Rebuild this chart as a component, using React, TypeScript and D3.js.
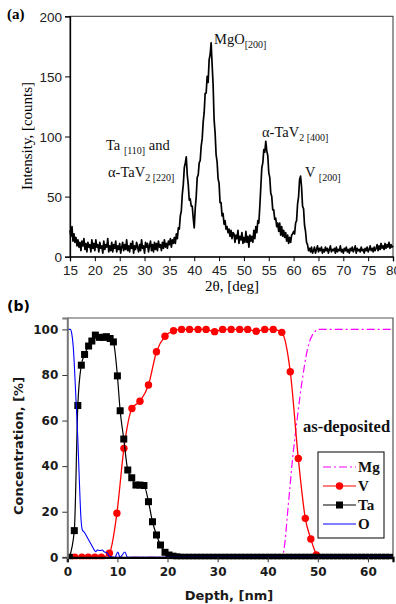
import React, { useRef, useEffect } from 'react'
import * as d3 from 'd3'

// (a) XRD scan, counts read every 0.2 deg from 15 to 80 deg
const XRD_START = 15
const XRD_STEP = 0.2
const xrdCounts = [
  22, 17, 25, 13, 19, 12, 16, 9, 14, 8,
  12, 5, 13, 9, 15, 6, 11, 4, 12, 8,
  10, 4, 14, 7, 11, 5, 14, 8, 10, 4,
  12, 7, 9, 3, 13, 6, 10, 8, 15, 4,
  9, 5, 12, 4, 10, 7, 13, 4, 9, 6,
  11, 3, 8, 12, 5, 10, 6, 14, 5, 9,
  4, 11, 7, 13, 3, 9, 6, 12, 8, 4,
  10, 5, 14, 7, 9, 3, 12, 8, 11, 4,
  9, 13, 5, 10, 4, 12, 6, 11, 5, 13,
  8, 10, 5, 12, 7, 14, 8, 11, 7, 13,
  10, 15, 8, 14, 11,
  16, 11, 19, 15, 24, 23, 34, 38, 52, 60,
  74, 78, 83, 68, 60, 47, 48, 42, 42, 32,
  24, 40, 50, 66, 68, 78, 80, 92, 98, 112,
  120, 136, 136, 150, 145, 164, 168, 178, 160, 143,
  114, 103, 85, 79, 65, 61, 45, 45, 34, 36,
  27, 30, 23, 25, 20, 23, 17, 22, 15, 20,
  19, 12, 18, 15, 22, 11, 17, 14, 20, 11,
  16, 12, 21, 12, 17, 8, 18, 13, 17, 12,
  22, 15, 25, 20, 30, 28, 42, 58, 74, 78,
  89, 87, 96, 88, 84, 70, 66, 53, 50, 39,
  39, 31, 32, 25, 28, 21, 28, 18, 25, 17,
  22, 16, 20, 13, 18, 11, 16, 12, 18, 19,
  21, 19, 28, 30, 44, 50, 64, 67, 58, 42,
  40, 26, 21, 12, 10, 5, 7, 4, 8, 3,
  5, 8, 3, 6, 9, 4, 7, 5, 8, 3,
  6, 4, 8, 5, 7, 3, 6, 9, 4, 6,
  5, 7, 3, 8, 4, 6, 5, 9, 4, 6,
  3, 7, 5, 8, 4, 6, 3, 7, 5, 8,
  4, 6, 9, 3, 7, 5, 6, 4, 8, 5,
  6, 3, 7, 5, 8, 4, 6, 9, 5, 7,
  4, 8, 5, 7, 10, 5, 9, 6, 11, 7,
  9, 6, 11, 7, 10, 8, 12, 7, 10, 8,
  9,
]
const xrdMajorTicks = [15, 20, 25, 30, 35, 40, 45, 50, 55, 60, 65, 70, 75, 80]
const xrdCountTicks = [0, 50, 100, 150, 200]

// (b) depth profile
const mgDepth = [0, 42.6, 43.0, 43.5, 43.9, 44.4, 44.9, 45.4, 45.9, 46.4, 46.9, 47.4, 47.9, 48.4, 48.9, 49.4, 49.9, 65]
const mgConc = [0, 0, 1, 8, 18, 30, 42, 52, 61, 70, 78, 85, 91, 95, 97.5, 99, 100, 100]

const vDepth = [1.5, 2.9, 4.2, 5.5, 6.8, 8.4, 9.9, 11.3, 12.9, 14.5, 16.2, 17.8, 19.5, 21.2, 22.8, 24.4, 26.1, 27.7, 29.4, 31.0, 32.7, 34.4, 36.0, 37.7, 39.4, 41.1, 42.8, 44.5, 46.1, 47.5, 48.6, 49.7]
const vConc = [0, 0, 0, 0, 0, 1.8, 19.3, 47.8, 65.3, 68.5, 75.6, 90.2, 97, 99.4, 100, 100, 100, 100, 99, 100, 100, 100, 100, 99.2, 100, 100, 98.7, 81.4, 43.4, 17.1, 8, 1]

const taDepth = [
  0.4, 1.4, 2.1, 2.8, 3.45, 4.25, 4.9, 5.6, 6.4, 7.2, 7.8, 8.55, 9.2, 10.0, 10.55, 11.27, 12.07, 12.86,
  13.7, 14.5, 15.3, 16.2, 17.0, 17.8, 18.6, 19.5, 20.3, 21.1, 21.9,
  22.7, 23.5, 24.3, 25.1, 25.9, 26.7, 27.5, 28.3, 29.1, 29.9, 30.7, 31.5, 32.3, 33.1, 33.9, 34.7,
  35.5, 36.3, 37.1, 37.9, 38.7, 39.5, 40.3, 41.1, 41.9, 42.7, 43.5, 44.3, 45.1, 45.9, 46.7, 47.5,
  48.3, 49.1, 49.9, 50.7, 51.5, 52.3, 53.1, 53.9, 54.7, 55.5, 56.3, 57.1, 57.9, 58.7, 59.5, 60.3,
  61.1, 61.9, 62.7, 63.5, 64.3,
]
const taConc = [
  0, 11.7, 66.6, 84.3, 89, 92.7, 94.9, 97.5, 96.5, 96.5, 96.8, 96, 94.5, 79.6, 64.3, 51.9, 38.3, 34.9,
  31.7, 31.7, 31.5, 24.4, 15.6, 9.8, 5.4, 2.2, 1.0, 0.5, 0.2,
  0, 0, 0, 0, 0, 0, 0, 0, 0, 0, 0, 0, 0, 0, 0, 0,
  0, 0, 0, 0, 0, 0, 0, 0, 0, 0, 0, 0, 0, 0, 0, 0,
  0, 0, 0, 0, 0, 0, 0, 0, 0, 0, 0, 0, 0, 0, 0, 0,
  0, 0, 0, 0, 0,
]

const oDepth = [0, 0.6, 0.9, 1.2, 1.5, 1.8, 2.1, 2.4, 2.7, 3.0, 3.4, 3.8, 4.3, 4.8, 5.3, 5.7, 6.0, 6.5, 7.0, 7.3, 7.9, 8.5, 9.5, 10.1, 10.5, 11.5, 12.0, 20, 40, 65]
const oConc = [100, 100, 98, 92, 80, 66, 52, 34, 18, 12, 11, 9.5, 7.5, 5.5, 3.5, 2.5, 3.2, 3, 3.2, 2.5, 2, 0.3, 0, 2.3, 0, 2.3, 0, 0, 0, 0]

const depthTicks = [0, 10, 20, 30, 40, 50, 60]
const concTicks = [0, 20, 40, 60, 80, 100]

const SERIF = '"Liberation Serif", "Times New Roman", serif'
const SANS = '"Liberation Sans", Arial, sans-serif'
const BOLD_SANS = '"DejaVu Sans", Verdana, sans-serif'

const COLORS = {
  mg: '#ff00ff',
  v: '#ff0000',
  ta: '#000000',
  o: '#0000ff',
  frame: '#555555',
}

type Sel = d3.Selection<SVGSVGElement, unknown, null, undefined>

function drawXrd(svg: Sel) {
  const x = d3.scaleLinear().domain([15, 80]).range([70, 393])
  const y = d3.scaleLinear().domain([0, 200]).range([256.7, 16.3])
  const g = svg.append('g')

  // frame
  g.append('rect')
    .attr('x', x(15)).attr('y', y(200))
    .attr('width', x(80) - x(15)).attr('height', y(0) - y(200))
    .attr('fill', 'none').attr('stroke', '#333').attr('stroke-width', 1)

  const line = d3.line<number>()
    .x((d, i) => x(XRD_START + i * XRD_STEP))
    .y(d => y(d))
  g.append('path')
    .attr('d', line(xrdCounts))
    .attr('fill', 'none')
    .attr('stroke', '#000')
    .attr('stroke-width', 1.7)
    .attr('stroke-linejoin', 'round')

  // x axis
  const xAxis = g.append('g').attr('transform', `translate(0,${y(0)})`)
  xAxis.call(d3.axisBottom(x).tickValues(d3.range(17.5, 80, 5)).tickSize(2.5).tickFormat(() => ''))
  xAxis.call(d3.axisBottom(x).tickValues(xrdMajorTicks).tickSize(4.5).tickPadding(4).tickFormat(d3.format('d')))
  xAxis.selectAll('.domain').attr('stroke', '#000').attr('stroke-width', 1.3)
  xAxis.selectAll('text').attr('font-family', SANS).attr('font-size', 13.5).attr('fill', '#222')

  // y axis
  const yAxis = g.append('g').attr('transform', `translate(${x(15)},0)`)
  yAxis.call(d3.axisLeft(y).tickValues([25, 75, 125, 175]).tickSize(2.5).tickFormat(() => ''))
  yAxis.call(d3.axisLeft(y).tickValues(xrdCountTicks).tickSize(5).tickPadding(3).tickFormat(d3.format('d')))
  yAxis.selectAll('.domain').attr('stroke', '#000').attr('stroke-width', 1.3)
  yAxis.selectAll('text').attr('font-family', SANS).attr('font-size', 13.5).attr('fill', '#222').attr('dy', '0.36em')

  svg.append('text')
    .attr('x', 7).attr('y', 19)
    .attr('font-family', SERIF).attr('font-weight', 'bold').attr('font-size', 15)
    .text('(a)')

  svg.append('text')
    .attr('transform', `translate(32,136) rotate(-90)`)
    .attr('text-anchor', 'middle')
    .attr('font-family', SERIF).attr('font-size', 15)
    .text('Intensity, [counts]')

  svg.append('text')
    .attr('x', 232).attr('y', 291)
    .attr('text-anchor', 'middle')
    .attr('font-family', SERIF).attr('font-size', 15)
    .text('2θ, [deg]')

  // peak labels
  const label = (px: number, py: number, parts: [string, boolean][]) => {
    const t = svg.append('text')
      .attr('x', px).attr('y', py)
      .attr('font-family', SERIF).attr('font-size', 14.5).attr('fill', '#111')
    let sub = false
    parts.forEach(([s, isSub]) => {
      const ts = t.append('tspan').text(s)
      if (isSub && !sub) ts.attr('dy', 4)
      if (!isSub && sub) ts.attr('dy', -4)
      if (isSub) ts.attr('font-size', 10)
      sub = isSub
    })
  }
  label(214, 43.5, [['MgO', false], ['[200]', true]])
  label(262, 136.5, [['α-TaV', false], ['2 [400]', true]])
  label(305, 176.5, [['V ', false], [' [200]', true]])
  label(106, 150, [['Ta ', false], ['[110]', true], [' and', false]])
  label(108, 176.5, [['α-TaV', false], ['2 [220]', true]])
}

function drawProfile(svg: Sel) {
  const x = d3.scaleLinear().domain([0, 65]).range([67.3, 393])
  const y = d3.scaleLinear().domain([0, 105]).range([557.3, 318])
  const g = svg.append('g')

  svg.append('defs').append('clipPath').attr('id', 'plot-b')
    .append('rect')
    .attr('x', x(0)).attr('y', y(105))
    .attr('width', x(65) - x(0)).attr('height', y(0) - y(105) + 2)

  // frame top/right
  g.append('path')
    .attr('d', `M${x(0)},${y(105)}H${x(65)}V${y(0)}`)
    .attr('fill', 'none').attr('stroke', COLORS.frame).attr('stroke-width', 1.2)

  const plot = g.append('g').attr('clip-path', 'url(#plot-b)')
  const curve = (xs: number[], ys: number[]) =>
    d3.line<number>().x(d => x(d)).y((d, i) => y(ys[i])).curve(d3.curveMonotoneX)(xs)

  plot.append('path')
    .attr('d', curve(mgDepth, mgConc))
    .attr('fill', 'none').attr('stroke', COLORS.mg).attr('stroke-width', 1.2)
    .attr('stroke-dasharray', '8,3,2,3')

  plot.append('path')
    .attr('d', curve(vDepth, vConc))
    .attr('fill', 'none').attr('stroke', COLORS.v).attr('stroke-width', 1.3)
  plot.selectAll('.v-dot').data(vDepth).enter().append('circle')
    .attr('cx', d => x(d)).attr('cy', (d, i) => y(vConc[i]))
    .attr('r', 3.7).attr('fill', COLORS.v)

  plot.append('path')
    .attr('d', curve(taDepth, taConc))
    .attr('fill', 'none').attr('stroke', COLORS.ta).attr('stroke-width', 1.2)
  plot.selectAll('.ta-sq').data(taDepth).enter().append('rect')
    .attr('x', d => x(d) - 3.5).attr('y', (d, i) => y(taConc[i]) - 3.5)
    .attr('width', 7).attr('height', 7).attr('fill', COLORS.ta)

  plot.append('path')
    .attr('d', curve(oDepth, oConc))
    .attr('fill', 'none').attr('stroke', COLORS.o).attr('stroke-width', 1.1)

  // axes
  const xAxis = g.append('g').attr('transform', `translate(0,${y(0)})`)
  xAxis.call(d3.axisBottom(x).tickValues(d3.range(5, 66, 10)).tickSize(3).tickFormat(() => ''))
  xAxis.call(d3.axisBottom(x).tickValues(depthTicks).tickSize(5).tickPadding(5).tickFormat(d3.format('d')))
  xAxis.selectAll('.domain').attr('stroke', '#000').attr('stroke-width', 2.2)
  xAxis.selectAll('line').attr('stroke', '#333')
  xAxis.selectAll('text').attr('font-family', BOLD_SANS).attr('font-weight', 'bold').attr('font-size', 12).attr('fill', '#1a1a1a')

  const yAxis = g.append('g').attr('transform', `translate(${x(0)},0)`)
  yAxis.call(d3.axisLeft(y).tickValues(d3.range(10, 100, 20)).tickSize(3).tickFormat(() => ''))
  yAxis.call(d3.axisLeft(y).tickValues(concTicks).tickSize(5).tickPadding(4).tickFormat(d3.format('d')))
  yAxis.selectAll('.domain').attr('stroke', '#777').attr('stroke-width', 2)
  yAxis.selectAll('line').attr('stroke', '#333')
  yAxis.selectAll('text').attr('font-family', BOLD_SANS).attr('font-weight', 'bold').attr('font-size', 12).attr('fill', '#1a1a1a')

  svg.append('text')
    .attr('x', 7).attr('y', 311)
    .attr('font-family', BOLD_SANS).attr('font-weight', 'bold').attr('font-size', 14)
    .text('(b)')

  svg.append('text')
    .attr('transform', `translate(23,446) rotate(-90)`)
    .attr('text-anchor', 'middle')
    .attr('font-family', BOLD_SANS).attr('font-weight', 'bold').attr('font-size', 13).attr('fill', '#1a1a1a')
    .text('Concentration, [%]')

  svg.append('text')
    .attr('x', 229).attr('y', 600)
    .attr('text-anchor', 'middle')
    .attr('font-family', BOLD_SANS).attr('font-weight', 'bold').attr('font-size', 13).attr('fill', '#1a1a1a')
    .text('Depth, [nm]')

  svg.append('text')
    .attr('x', 303).attr('y', 432)
    .attr('font-family', SERIF).attr('font-weight', 'bold').attr('font-size', 16.5).attr('fill', '#111')
    .text('as-deposited')

  // legend
  const legend = svg.append('g')
  legend.append('rect')
    .attr('x', 318).attr('y', 452).attr('width', 66).attr('height', 86)
    .attr('fill', '#fff').attr('stroke', '#000').attr('stroke-width', 1)
  const entries = [
    { name: 'Mg', color: COLORS.mg, dash: '8,3,2,3', marker: 'none' },
    { name: 'V', color: COLORS.v, dash: null, marker: 'circle' },
    { name: 'Ta', color: COLORS.ta, dash: null, marker: 'square' },
    { name: 'O', color: COLORS.o, dash: null, marker: 'none' },
  ]
  const items = legend.selectAll('.item').data(entries).enter().append('g')
    .attr('transform', (d, i) => `translate(0,${467 + i * 19})`)
  items.append('line')
    .attr('x1', 323).attr('x2', 356).attr('y1', 0).attr('y2', 0)
    .attr('stroke', d => d.color).attr('stroke-width', 1.2)
    .attr('stroke-dasharray', d => d.dash)
  items.filter(d => d.marker === 'circle').append('circle')
    .attr('cx', 339.5).attr('cy', 0).attr('r', 3.7).attr('fill', d => d.color)
  items.filter(d => d.marker === 'square').append('rect')
    .attr('x', 336).attr('y', -3.5).attr('width', 7).attr('height', 7).attr('fill', d => d.color)
  items.append('text')
    .attr('x', 358).attr('y', 5)
    .attr('font-family', SERIF).attr('font-weight', 'bold').attr('font-size', 15).attr('fill', '#111')
    .text(d => d.name)
}

export default function App() {
  const svgRef = useRef<SVGSVGElement>(null)

  useEffect(() => {
    if (!svgRef.current) return
    const svg = d3.select(svgRef.current)
    svg.selectAll('*').remove()
    drawXrd(svg)
    drawProfile(svg)
  }, [])

  return (
    <svg
      ref={svgRef}
      width={396}
      height={604}
      style={{ position: 'absolute', left: 0, top: 0, backgroundColor: '#FFFFFF' }}
    />
  )
}
